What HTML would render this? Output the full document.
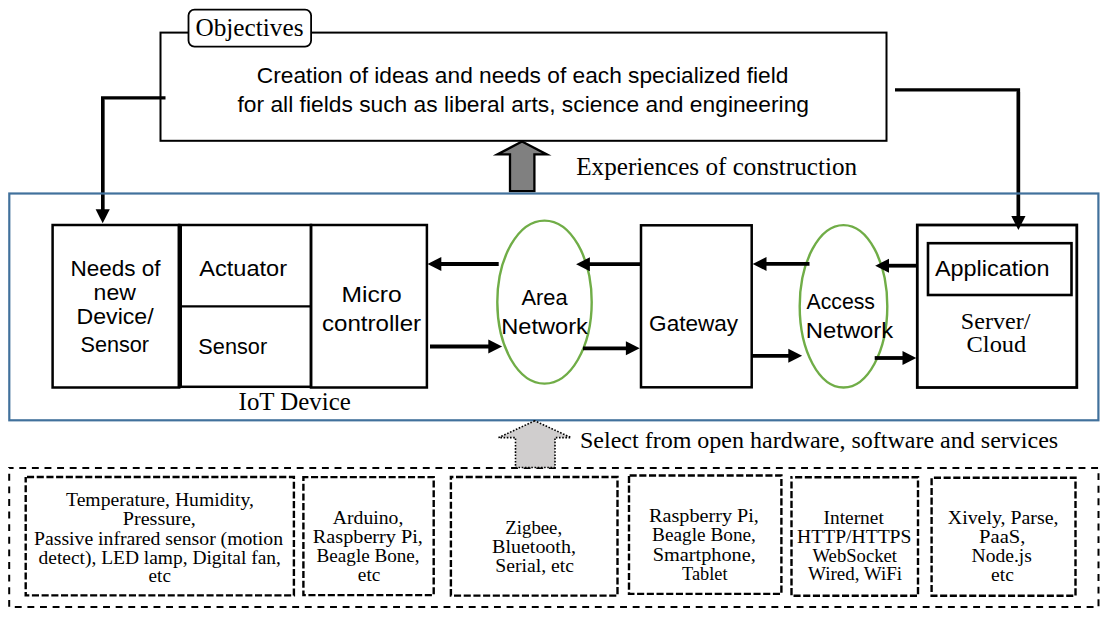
<!DOCTYPE html>
<html><head><meta charset="utf-8"><style>
html,body{margin:0;padding:0;background:#fff;width:1107px;height:619px;overflow:hidden}
svg{display:block}
</style></head><body>
<svg width="1107" height="619" viewBox="0 0 1107 619">
<rect width="1107" height="619" fill="#fff"/>
<rect x="160.5" y="32.6" width="726" height="108.2" fill="none" stroke="#000" stroke-width="2"/>
<rect x="188.5" y="9.6" width="122.6" height="37" rx="6" ry="6" fill="#fff" stroke="#000" stroke-width="1.8"/>
<text x="195.44" y="35.80" font-family='"Liberation Serif", serif' font-size="24.5" textLength="108.05" lengthAdjust="spacingAndGlyphs" fill="#000">Objectives</text>
<text x="256.86" y="83.40" font-family='"Liberation Sans", sans-serif' font-size="22.5" textLength="531.55" lengthAdjust="spacingAndGlyphs" fill="#000">Creation of ideas and needs of each specialized field</text>
<text x="237.50" y="112.20" font-family='"Liberation Sans", sans-serif' font-size="22.5" textLength="571.49" lengthAdjust="spacingAndGlyphs" fill="#000">for all fields such as liberal arts, science and engineering</text>
<polyline points="165.5,97.9 102.7,97.9 102.7,212" fill="none" stroke="#000" stroke-width="3.4"/>
<line x1="102.7" y1="100" x2="102.7" y2="210.3" stroke="#000" stroke-width="3.4"/><polygon points="102.7,223.3 95.60000000000001,209.3 109.8,209.3" fill="#000"/>
<polyline points="895,89.9 1018.4,89.9 1018.4,216" fill="none" stroke="#000" stroke-width="3.4"/>
<line x1="1018.4" y1="92" x2="1018.4" y2="217" stroke="#000" stroke-width="3.4"/><polygon points="1018.4,230 1011.3,216 1025.5,216" fill="#000"/>
<polygon points="522,141.6 497.4,154.4 510,154.4 510,191.2 534.4,191.2 534.4,154.4 546.8,154.4" fill="#808080" stroke="#000" stroke-width="2.3" stroke-linejoin="miter" stroke-miterlimit="12"/>
<text x="576.26" y="175.20" font-family='"Liberation Serif", serif' font-size="24.8" textLength="280.81" lengthAdjust="spacingAndGlyphs" fill="#000">Experiences of construction</text>
<rect x="9.3" y="193.5" width="1089.1" height="226.8" fill="none" stroke="#41719c" stroke-width="2.2"/>
<rect x="52.6" y="225" width="126.6" height="162.5" fill="none" stroke="#000" stroke-width="2.5"/>
<rect x="179.2" y="225" width="131.8" height="161.8" fill="none" stroke="#000" stroke-width="2.5"/>
<line x1="179.8" y1="224" x2="179.8" y2="388" stroke="#000" stroke-width="4.4"/>
<line x1="179.2" y1="306.3" x2="311" y2="306.3" stroke="#000" stroke-width="2.3"/>
<rect x="311" y="225" width="115.9" height="162.5" fill="none" stroke="#000" stroke-width="2.5"/>
<rect x="641" y="225.3" width="110.7" height="162" fill="none" stroke="#000" stroke-width="2.5"/>
<rect x="917.3" y="225" width="159.5" height="162.5" fill="none" stroke="#000" stroke-width="2.8"/>
<rect x="928" y="243.2" width="143.5" height="51.8" fill="none" stroke="#000" stroke-width="2.6"/>
<ellipse cx="544.5" cy="302.1" rx="47.2" ry="81.5" fill="none" stroke="#70ad47" stroke-width="2.4"/>
<ellipse cx="843.5" cy="306.3" rx="43.8" ry="81.2" fill="none" stroke="#70ad47" stroke-width="2.4"/>
<line x1="498.7" y1="264.0" x2="440.3" y2="264.0" stroke="#000" stroke-width="3.8"/><polygon points="427.5,264.0 441.3,257.0 441.3,271.0" fill="#000"/>
<line x1="430" y1="346.5" x2="489.3" y2="346.5" stroke="#000" stroke-width="3.8"/><polygon points="502.1,346.5 488.3,339.5 488.3,353.5" fill="#000"/>
<line x1="640" y1="264.2" x2="588.9" y2="264.2" stroke="#000" stroke-width="3.8"/><polygon points="576.1,264.2 589.9,257.2 589.9,271.2" fill="#000"/>
<line x1="583" y1="348.3" x2="626.9000000000001" y2="348.3" stroke="#000" stroke-width="3.8"/><polygon points="639.7,348.3 625.9000000000001,341.3 625.9000000000001,355.3" fill="#000"/>
<line x1="809.5" y1="263.9" x2="765.5" y2="263.9" stroke="#000" stroke-width="3.8"/><polygon points="752.7,263.9 766.5,256.9 766.5,270.9" fill="#000"/>
<line x1="752.2" y1="355.8" x2="789.3000000000001" y2="355.8" stroke="#000" stroke-width="3.8"/><polygon points="802.1,355.8 788.3000000000001,348.8 788.3000000000001,362.8" fill="#000"/>
<line x1="917" y1="265.7" x2="888.0" y2="265.7" stroke="#000" stroke-width="3.8"/><polygon points="875.2,265.7 889.0,258.7 889.0,272.7" fill="#000"/>
<line x1="874.7" y1="358.0" x2="903.5" y2="358.0" stroke="#000" stroke-width="3.8"/><polygon points="916.3,358.0 902.5,351.0 902.5,365.0" fill="#000"/>
<text x="70.46" y="276.40" font-family='"Liberation Sans", sans-serif' font-size="22.5" textLength="90.06" lengthAdjust="spacingAndGlyphs" fill="#000">Needs of</text>
<text x="93.62" y="300.00" font-family='"Liberation Sans", sans-serif' font-size="22.5" textLength="42.24" lengthAdjust="spacingAndGlyphs" fill="#000">new</text>
<text x="76.54" y="323.80" font-family='"Liberation Sans", sans-serif' font-size="22.5" textLength="77.11" lengthAdjust="spacingAndGlyphs" fill="#000">Device/</text>
<text x="80.44" y="351.90" font-family='"Liberation Sans", sans-serif' font-size="22.5" textLength="68.65" lengthAdjust="spacingAndGlyphs" fill="#000">Sensor</text>
<text x="199.26" y="275.50" font-family='"Liberation Sans", sans-serif' font-size="22.5" textLength="87.82" lengthAdjust="spacingAndGlyphs" fill="#000">Actuator</text>
<text x="198.36" y="354.10" font-family='"Liberation Sans", sans-serif' font-size="22.5" textLength="68.81" lengthAdjust="spacingAndGlyphs" fill="#000">Sensor</text>
<text x="341.54" y="302.40" font-family='"Liberation Sans", sans-serif' font-size="22.5" textLength="60.21" lengthAdjust="spacingAndGlyphs" fill="#000">Micro</text>
<text x="322.02" y="330.60" font-family='"Liberation Sans", sans-serif' font-size="22.5" textLength="99.06" lengthAdjust="spacingAndGlyphs" fill="#000">controller</text>
<text x="521.42" y="305.30" font-family='"Liberation Sans", sans-serif' font-size="22.5" textLength="46.15" lengthAdjust="spacingAndGlyphs" fill="#000">Area</text>
<text x="501.28" y="334.10" font-family='"Liberation Sans", sans-serif' font-size="22.5" textLength="86.66" lengthAdjust="spacingAndGlyphs" fill="#000">Network</text>
<text x="649.10" y="330.80" font-family='"Liberation Sans", sans-serif' font-size="22.5" textLength="89.07" lengthAdjust="spacingAndGlyphs" fill="#000">Gateway</text>
<text x="806.50" y="309.10" font-family='"Liberation Sans", sans-serif' font-size="22.5" textLength="68.48" lengthAdjust="spacingAndGlyphs" fill="#000">Access</text>
<text x="805.78" y="338.20" font-family='"Liberation Sans", sans-serif' font-size="22.5" textLength="87.48" lengthAdjust="spacingAndGlyphs" fill="#000">Network</text>
<text x="934.92" y="276.30" font-family='"Liberation Sans", sans-serif' font-size="22.5" textLength="114.56" lengthAdjust="spacingAndGlyphs" fill="#000">Application</text>
<text x="960.86" y="328.60" font-family='"Liberation Serif", serif' font-size="24" textLength="69.55" lengthAdjust="spacingAndGlyphs" fill="#000">Server/</text>
<text x="966.60" y="352.10" font-family='"Liberation Serif", serif' font-size="24" textLength="59.64" lengthAdjust="spacingAndGlyphs" fill="#000">Cloud</text>
<text x="238.60" y="409.70" font-family='"Liberation Serif", serif' font-size="24.8" textLength="112.23" lengthAdjust="spacingAndGlyphs" fill="#000">IoT Device</text>
<rect x="9.2" y="467.9" width="1089.3" height="139" fill="none" stroke="#000" stroke-width="2" stroke-dasharray="6.9 5.71" stroke-dashoffset="2.52"/>
<text x="579.94" y="447.50" font-family='"Liberation Serif", serif' font-size="24" textLength="478.22" lengthAdjust="spacingAndGlyphs" fill="#000">Select from open hardware, software and services</text>
<polygon points="534.7,420.8 498.6,437.6 515.5,437.6 515.5,467.5 555,467.5 555,437.6 571,437.6" fill="#d0cece" stroke="#000" stroke-width="1.6" stroke-dasharray="1.6 1.6"/>
<rect x="25.7" y="477" width="268.2" height="118.4" fill="none" stroke="#000" stroke-width="2.4" stroke-dasharray="7.1 2.6" stroke-dashoffset="8.4"/>
<rect x="303.4" y="477.1" width="130.3" height="118.0" fill="none" stroke="#000" stroke-width="2.4" stroke-dasharray="7.1 2.6" stroke-dashoffset="2.1"/>
<rect x="450.9" y="477" width="166.6" height="118.6" fill="none" stroke="#000" stroke-width="2.4" stroke-dasharray="7.1 2.6" stroke-dashoffset="4.6"/>
<rect x="629" y="475.5" width="152.4" height="118.4" fill="none" stroke="#000" stroke-width="2.4" stroke-dasharray="7.1 2.6" stroke-dashoffset="9.1"/>
<rect x="791.5" y="477.2" width="126.5" height="118.6" fill="none" stroke="#000" stroke-width="2.4" stroke-dasharray="7.1 2.6" stroke-dashoffset="6.1"/>
<rect x="931.6" y="477.7" width="143.9" height="118.1" fill="none" stroke="#000" stroke-width="2.4" stroke-dasharray="7.1 2.6" stroke-dashoffset="7.4"/>
<text x="66.00" y="506.20" font-family='"Liberation Serif", serif' font-size="18" textLength="187.89" lengthAdjust="spacingAndGlyphs" fill="#000">Temperature, Humidity,</text>
<text x="122.85" y="525.45" font-family='"Liberation Serif", serif' font-size="18" textLength="73.05" lengthAdjust="spacingAndGlyphs" fill="#000">Pressure,</text>
<text x="34.10" y="544.70" font-family='"Liberation Serif", serif' font-size="18" textLength="248.90" lengthAdjust="spacingAndGlyphs" fill="#000">Passive infrared sensor (motion</text>
<text x="38.60" y="563.95" font-family='"Liberation Serif", serif' font-size="18" textLength="242.30" lengthAdjust="spacingAndGlyphs" fill="#000">detect), LED lamp, Digital fan,</text>
<text x="148.60" y="582.20" font-family='"Liberation Serif", serif' font-size="18" textLength="22.29" lengthAdjust="spacingAndGlyphs" fill="#000">etc</text>
<text x="332.85" y="524.20" font-family='"Liberation Serif", serif' font-size="18" textLength="70.55" lengthAdjust="spacingAndGlyphs" fill="#000">Arduino,</text>
<text x="312.85" y="542.95" font-family='"Liberation Serif", serif' font-size="18" textLength="110.05" lengthAdjust="spacingAndGlyphs" fill="#000">Raspberry Pi,</text>
<text x="316.60" y="562.20" font-family='"Liberation Serif", serif' font-size="18" textLength="103.05" lengthAdjust="spacingAndGlyphs" fill="#000">Beagle Bone,</text>
<text x="357.85" y="580.95" font-family='"Liberation Serif", serif' font-size="18" textLength="22.54" lengthAdjust="spacingAndGlyphs" fill="#000">etc</text>
<text x="505.35" y="534.20" font-family='"Liberation Serif", serif' font-size="18" textLength="56.81" lengthAdjust="spacingAndGlyphs" fill="#000">Zigbee,</text>
<text x="492.10" y="553.45" font-family='"Liberation Serif", serif' font-size="18" textLength="83.81" lengthAdjust="spacingAndGlyphs" fill="#000">Bluetooth,</text>
<text x="495.35" y="572.20" font-family='"Liberation Serif", serif' font-size="18" textLength="78.55" lengthAdjust="spacingAndGlyphs" fill="#000">Serial, etc</text>
<text x="649.10" y="522.20" font-family='"Liberation Serif", serif' font-size="18" textLength="109.80" lengthAdjust="spacingAndGlyphs" fill="#000">Raspberry Pi,</text>
<text x="652.10" y="540.95" font-family='"Liberation Serif", serif' font-size="18" textLength="103.80" lengthAdjust="spacingAndGlyphs" fill="#000">Beagle Bone,</text>
<text x="652.70" y="560.95" font-family='"Liberation Serif", serif' font-size="18" textLength="103.19" lengthAdjust="spacingAndGlyphs" fill="#000">Smartphone,</text>
<text x="682.00" y="579.70" font-family='"Liberation Serif", serif' font-size="18" textLength="45.51" lengthAdjust="spacingAndGlyphs" fill="#000">Tablet</text>
<text x="823.60" y="524.20" font-family='"Liberation Serif", serif' font-size="18" textLength="60.16" lengthAdjust="spacingAndGlyphs" fill="#000">Internet</text>
<text x="797.10" y="542.70" font-family='"Liberation Serif", serif' font-size="18" textLength="114.30" lengthAdjust="spacingAndGlyphs" fill="#000">HTTP/HTTPS</text>
<text x="812.50" y="561.70" font-family='"Liberation Serif", serif' font-size="18" textLength="84.51" lengthAdjust="spacingAndGlyphs" fill="#000">WebSocket</text>
<text x="808.00" y="580.20" font-family='"Liberation Serif", serif' font-size="18" textLength="94.15" lengthAdjust="spacingAndGlyphs" fill="#000">Wired, WiFi</text>
<text x="947.85" y="524.20" font-family='"Liberation Serif", serif' font-size="18" textLength="110.55" lengthAdjust="spacingAndGlyphs" fill="#000">Xively, Parse,</text>
<text x="979.10" y="542.70" font-family='"Liberation Serif", serif' font-size="18" textLength="46.30" lengthAdjust="spacingAndGlyphs" fill="#000">PaaS,</text>
<text x="971.60" y="562.20" font-family='"Liberation Serif", serif' font-size="18" textLength="60.30" lengthAdjust="spacingAndGlyphs" fill="#000">Node.js</text>
<text x="991.10" y="580.95" font-family='"Liberation Serif", serif' font-size="18" textLength="22.79" lengthAdjust="spacingAndGlyphs" fill="#000">etc</text>
</svg>
</body></html>
